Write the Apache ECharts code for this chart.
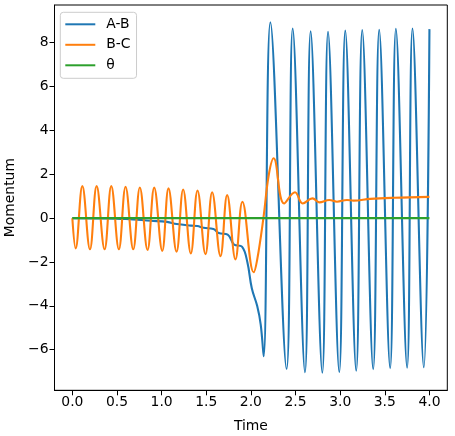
<!DOCTYPE html>
<html>
<head>
<meta charset="utf-8">
<script src="https://cdn.jsdelivr.net/npm/echarts@6/dist/echarts.min.js"></script>
<style>
html, body {margin: 0; padding: 0; background: #fff;}
#chart {width: 455px; height: 436px;}
</style>
</head>
<body>
<div id="chart"></div>
<script>
// values: [time, momentum]
var abPoints = [
    [0, 0], [0.3, -0.01], [0.6, -0.04], [0.88, -0.12], [1.06, -0.17],
    [1.17, -0.27], [1.33, -0.34], [1.40, -0.36], [1.47, -0.44], [1.58, -0.49],
    [1.64, -0.68], [1.74, -0.75], [1.81, -1.2], [1.90, -1.30], [1.96, -2.0],
    [2.01, -3.2], [2.07, -4.0], [2.11, -4.85], [2.143, -6.3],
    [2.218, 8.93], [2.400, -6.88], [2.468, 8.65], [2.606, -7.03],
    [2.669, 8.52], [2.800, -7.05], [2.864, 8.50], [2.990, -7.02],
    [3.057, 8.55], [3.180, -6.96], [3.247, 8.58], [3.370, -6.89],
    [3.437, 8.59], [3.560, -6.84], [3.624, 8.64], [3.750, -6.82],
    [3.810, 8.65], [3.937, -6.80], [4.0, 8.62]
];
var bcPoints = [
    [0, 0], [0.037, -1.38], [0.112, 1.46], [0.197, -1.42], [0.272, 1.46],
    [0.361, -1.42], [0.436, 1.46], [0.521, -1.42], [0.596, 1.43],
    [0.682, -1.42], [0.756, 1.40], [0.842, -1.45], [0.917, 1.39],
    [1.007, -1.49], [1.077, 1.36], [1.167, -1.53], [1.241, 1.31],
    [1.327, -1.61], [1.402, 1.26], [1.491, -1.64], [1.566, 1.18],
    [1.659, -1.73], [1.734, 1.05], [1.827, -1.88], [1.905, 0.75],
    [2.031, -2.47], [2.07, -1.9], [2.14, 0], [2.2, 1.97], [2.255, 2.73],
    [2.372, 0.67], [2.494, 1.18], [2.58, 0.67], [2.69, 0.90], [2.766, 0.72],
    [2.878, 0.83], [2.964, 0.75], [3.076, 0.83], [3.15, 0.80], [3.337, 0.88],
    [3.6, 0.93], [4.0, 0.97]
];
var thetaPoints = [[0, 0], [4.0, 0]];
var xTicks = [0, 0.5, 1.0, 1.5, 2.0, 2.5, 3.0, 3.5, 4.0];
var yTicks = [-6, -4, -2, 0, 2, 4, 6, 8];

var font = 'DejaVu Sans';
var fs = 13.9;

function lineSeries(name, data, color) {
    return {
        name: name,
        type: 'line',
        data: data,
        showSymbol: false,
        smooth: 0.4,
        lineStyle: {color: color, width: 2.1},
        itemStyle: {color: color}
    };
}

var chart = echarts.init(document.getElementById('chart'));
chart.setOption({
    animation: false,
    backgroundColor: '#fff',
    textStyle: {fontFamily: font},
    grid: {
        left: 54.5, right: 7.7, top: 5, bottom: 45.7,
        show: true, borderColor: '#000', borderWidth: 1,
        containLabel: false, outerBoundsMode: 'none'
    },
    legend: {
        orient: 'vertical',
        left: 60.3, top: 12.3,
        padding: [5, 6, 6, 5],
        itemGap: 6.5,
        itemWidth: 30, itemHeight: 2,
        icon: 'rect',
        backgroundColor: 'rgba(255,255,255,0.8)',
        borderColor: '#cccccc', borderWidth: 1, borderRadius: 3,
        textStyle: {fontFamily: font, fontSize: fs, color: '#000', padding: [0, 0, 0, 6]},
        data: ['A-B', 'B-C', 'θ']
    },
    xAxis: {
        type: 'value',
        min: -0.2, max: 4.2,
        name: 'Time', nameLocation: 'middle', nameGap: 29,
        nameTextStyle: {fontFamily: font, fontSize: fs, color: '#000'},
        axisLine: {show: true, onZero: false, lineStyle: {color: '#000'}},
        axisTick: {show: true, inside: false, length: 5, lineStyle: {color: '#000'}, customValues: xTicks},
        axisLabel: {
            fontFamily: font, fontSize: fs, color: '#000', margin: 5,
            customValues: xTicks,
            formatter: function(v) { return v.toFixed(1); }
        },
        splitLine: {show: false}
    },
    yAxis: {
        type: 'value',
        min: -7.85, max: 9.72,
        name: 'Momentum', nameLocation: 'middle', nameGap: 36,
        nameTextStyle: {fontFamily: font, fontSize: fs, color: '#000'},
        axisLine: {show: true, onZero: false, lineStyle: {color: '#000'}},
        axisTick: {show: true, inside: false, length: 5, lineStyle: {color: '#000'}, customValues: yTicks},
        axisLabel: {
            fontFamily: font, fontSize: fs, color: '#000', margin: 6,
            customValues: yTicks,
            formatter: function(v) { return String(v).replace('-', '\u2212'); }
        },
        splitLine: {show: false}
    },
    series: [
        lineSeries('A-B', abPoints, '#1f77b4'),
        lineSeries('B-C', bcPoints, '#ff7f0e'),
        lineSeries('θ', thetaPoints, '#2ca02c')
    ]
});
</script>
</body>
</html>
